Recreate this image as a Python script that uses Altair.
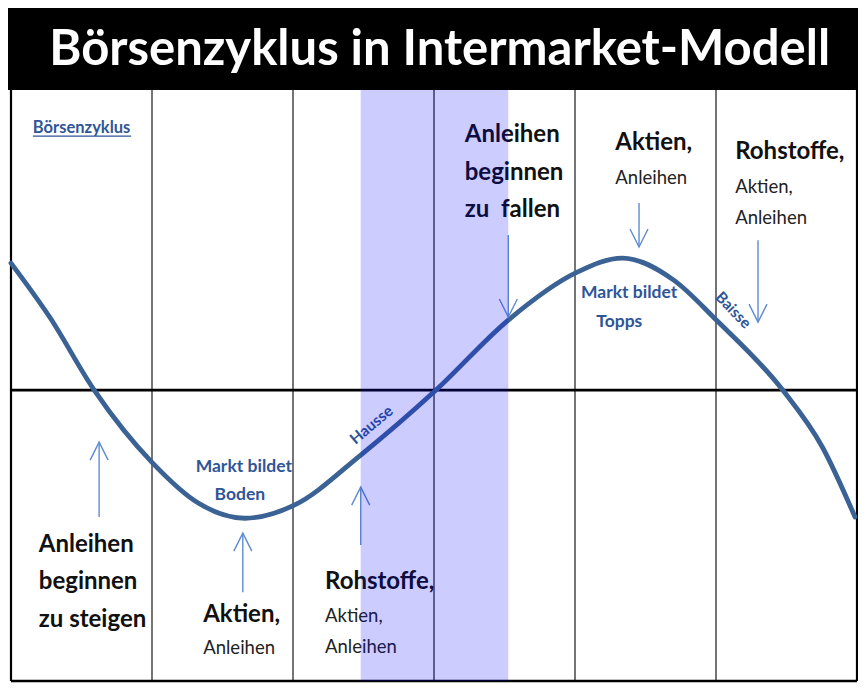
import altair as alt
import pandas as pd

# ---- data -------------------------------------------------------------
title_text = "Börsenzyklus in Intermarket-Modell"
subtitle_text = "Börsenzyklus"

# market cycle curve (phase units 0..6, level around 0)
curve_u = [0.0, 0.274, 0.59, 1.005, 1.328, 1.658, 2.009, 2.48, 3.014, 3.527,
           4.005, 4.335, 4.70, 5.002, 5.473, 5.754, 5.986]
curve_v = [0.426, 0.245, 0.0, -0.245, -0.379, -0.430, -0.386, -0.218, 0.0, 0.235,
           0.393, 0.443, 0.369, 0.235, 0.0, -0.191, -0.426]

column_edges = [1, 2, 3, 4, 5]
border_u = [0, 6]
grid_bottom = -0.976
grid_top = 1.0067
hline_v = [0, grid_bottom]

band_start = [2.48]
band_end = [3.527]

bold_text = ["Anleihen", "beginnen", "zu steigen", "Aktien,", "Rohstoffe,",
             "Anleihen", "beginnen", "zu\u00a0 fallen", "Aktien,", "Rohstoffe,"]
bold_u = [0.197, 0.197, 0.197, 1.363, 2.227, 3.218, 3.218, 3.218, 4.286, 5.136]
bold_v = [-0.520, -0.644, -0.772, -0.755, -0.644, 0.856, 0.728, 0.604, 0.829, 0.799]

regular_text = ["Anleihen", "Aktien,", "Anleihen", "Anleihen", "Aktien,", "Anleihen"]
regular_u = [1.363, 2.227, 2.227, 4.286, 5.136, 5.136]
regular_v = [-0.866, -0.758, -0.862, 0.711, 0.681, 0.577]

blue_text = ["Markt bildet", "Boden", "Markt bildet", "Topps"]
blue_u = [1.651, 1.623, 4.384, 4.314]
blue_v = [-0.258, -0.352, 0.3255, 0.228]

hausse_u, hausse_v = [2.557], [-0.117]
baisse_u, baisse_v = [5.122], [0.268]

arrow_u = [0.625, 1.644, 2.480, 3.527, 4.454, 5.298]
arrow_tail = [-0.426, -0.678, -0.520, 0.520, 0.6275, 0.503]
arrow_head = [-0.1745, -0.480, -0.3255, 0.245, 0.480, 0.228]
arrow_dir = ["up", "up", "up", "down", "down", "down"]

sub_u, sub_v = [0.155], [0.879]
sub_line_u, sub_line_u2, sub_line_v = [0.155], [0.852], [0.852]

title_u, title_v = [3.04], [1.0906]
bar_u, bar_u2, bar_v, bar_v2 = [-0.1], [6.1], [grid_top], [1.35]

# ---- scales -------------------------------------------------------------
xs = alt.Scale(domain=[0, 6], range=[3, 849], nice=False, zero=False)
ys = alt.Scale(domain=[grid_bottom, 1], range=[673, 84], nice=False, zero=False)


def X(f="u"):
    return alt.X(f"{f}:Q", scale=xs, axis=None)


def Y(f="v"):
    return alt.Y(f"{f}:Q", scale=ys, axis=None)


FONT = "Lato"

curve_df = pd.DataFrame({"u": curve_u, "v": curve_v})
vgrid_df = pd.DataFrame({"u": column_edges, "v": grid_bottom, "v2": grid_top})
border_df = pd.DataFrame({"u": border_u, "v": grid_bottom, "v2": grid_top})
hline_df = pd.DataFrame({"v": hline_v, "u": 0, "u2": 6})
band_df = pd.DataFrame({"u": band_start, "u2": band_end, "v": [grid_bottom], "v2": [grid_top]})
bold_df = pd.DataFrame({"t": bold_text, "u": bold_u, "v": bold_v})
reg_df = pd.DataFrame({"t": regular_text, "u": regular_u, "v": regular_v})
blue_df = pd.DataFrame({"t": blue_text, "u": blue_u, "v": blue_v})
arrow_df = pd.DataFrame({"u": arrow_u, "v": arrow_tail, "v2": arrow_head, "d": arrow_dir})
bar_df = pd.DataFrame({"u": bar_u, "u2": bar_u2, "v": bar_v, "v2": bar_v2})
title_df = pd.DataFrame({"t": [title_text], "u": title_u, "v": title_v})
sub_df = pd.DataFrame({"t": [subtitle_text], "u": sub_u, "v": sub_v})
subline_df = pd.DataFrame({"u": sub_line_u, "u2": sub_line_u2, "v": sub_line_v})

vgrid = alt.Chart(vgrid_df).mark_rule(color="#3a3a3a", strokeWidth=1.4).encode(
    x=X(), y=Y(), y2="v2:Q")
border = alt.Chart(border_df).mark_rule(color="#000000", strokeWidth=2.2).encode(
    x=X(), y=Y(), y2="v2:Q")
hlines = alt.Chart(hline_df).mark_rule(color="#000000", strokeWidth=2.6).encode(
    x=X(), x2="u2:Q", y=Y())

curve = alt.Chart(curve_df).mark_line(
    color="#3b6294", strokeWidth=4.8, interpolate="monotone", strokeCap="round"
).encode(x=X(), y=Y())

shafts = alt.Chart(arrow_df).mark_rule(color="#5f8bd0", strokeWidth=1.4).encode(
    x=X(), y=Y(), y2="v2:Q")
heads_up = alt.Chart(arrow_df).transform_filter("datum.d == 'up'").mark_point(
    shape="M-1,2L0,0L1,2", filled=False, size=324, color="#5f8bd0",
    strokeWidth=1.4, opacity=1).encode(x=X(), y=Y("v2"))
heads_down = alt.Chart(arrow_df).transform_filter("datum.d == 'down'").mark_point(
    shape="M-1,-2L0,0L1,-2", filled=False, size=324, color="#5f8bd0",
    strokeWidth=1.4, opacity=1).encode(x=X(), y=Y("v2"))

bold_labels = alt.Chart(bold_df).mark_text(
    font=FONT, fontWeight="bold", fontSize=24, color="#111111",
    align="left", baseline="middle").encode(x=X(), y=Y(), text="t:N")
reg_labels = alt.Chart(reg_df).mark_text(
    font=FONT, fontSize=18.5, color="#222222",
    align="left", baseline="middle").encode(x=X(), y=Y(), text="t:N")
blue_labels = alt.Chart(blue_df).mark_text(
    font=FONT, fontWeight="bold", fontSize=17.5, color="#2f5597",
    align="center", baseline="middle").encode(x=X(), y=Y(), text="t:N")
hausse = alt.Chart(pd.DataFrame({"t": ["Hausse"], "u": hausse_u, "v": hausse_v})).mark_text(
    font=FONT, fontWeight="bold", fontSize=15.5, color="#2f5597", angle=320,
    align="center", baseline="middle").encode(x=X(), y=Y(), text="t:N")
baisse = alt.Chart(pd.DataFrame({"t": ["Baisse"], "u": baisse_u, "v": baisse_v})).mark_text(
    font=FONT, fontWeight="bold", fontSize=15.5, color="#2f5597", angle=46,
    align="center", baseline="middle").encode(x=X(), y=Y(), text="t:N")

sub_label = alt.Chart(sub_df).mark_text(
    font=FONT, fontWeight="bold", fontSize=16.5, color="#2f5597",
    align="left", baseline="middle").encode(x=X(), y=Y(), text="t:N")
sub_line = alt.Chart(subline_df).mark_rule(color="#2f5597", strokeWidth=1.3).encode(
    x=X(), x2="u2:Q", y=Y())

band = alt.Chart(band_df).mark_rect(color="#0000ff", opacity=0.2).encode(
    x=X(), x2="u2:Q", y=Y(), y2="v2:Q")

title_bar = alt.Chart(bar_df).mark_rect(color="#000000").encode(
    x=X(), x2="u2:Q", y=Y(), y2="v2:Q")
title = alt.Chart(title_df).mark_text(
    font=FONT, fontWeight="bold", fontSize=49, color="#ffffff",
    align="center", baseline="alphabetic").encode(x=X(), y=Y(), text="t:N")

chart = alt.layer(
    vgrid, border, hlines, curve, shafts, heads_up, heads_down,
    bold_labels, reg_labels, blue_labels, hausse, baisse, sub_label, sub_line,
    band, title_bar, title
).properties(
    width=850, height=675, padding=0,
    autosize=alt.AutoSizeParams(type="none"),
    background="#ffffff"
).configure_view(stroke=None)

chart.save("out.html", embed_options={"renderer": "svg", "actions": False})
